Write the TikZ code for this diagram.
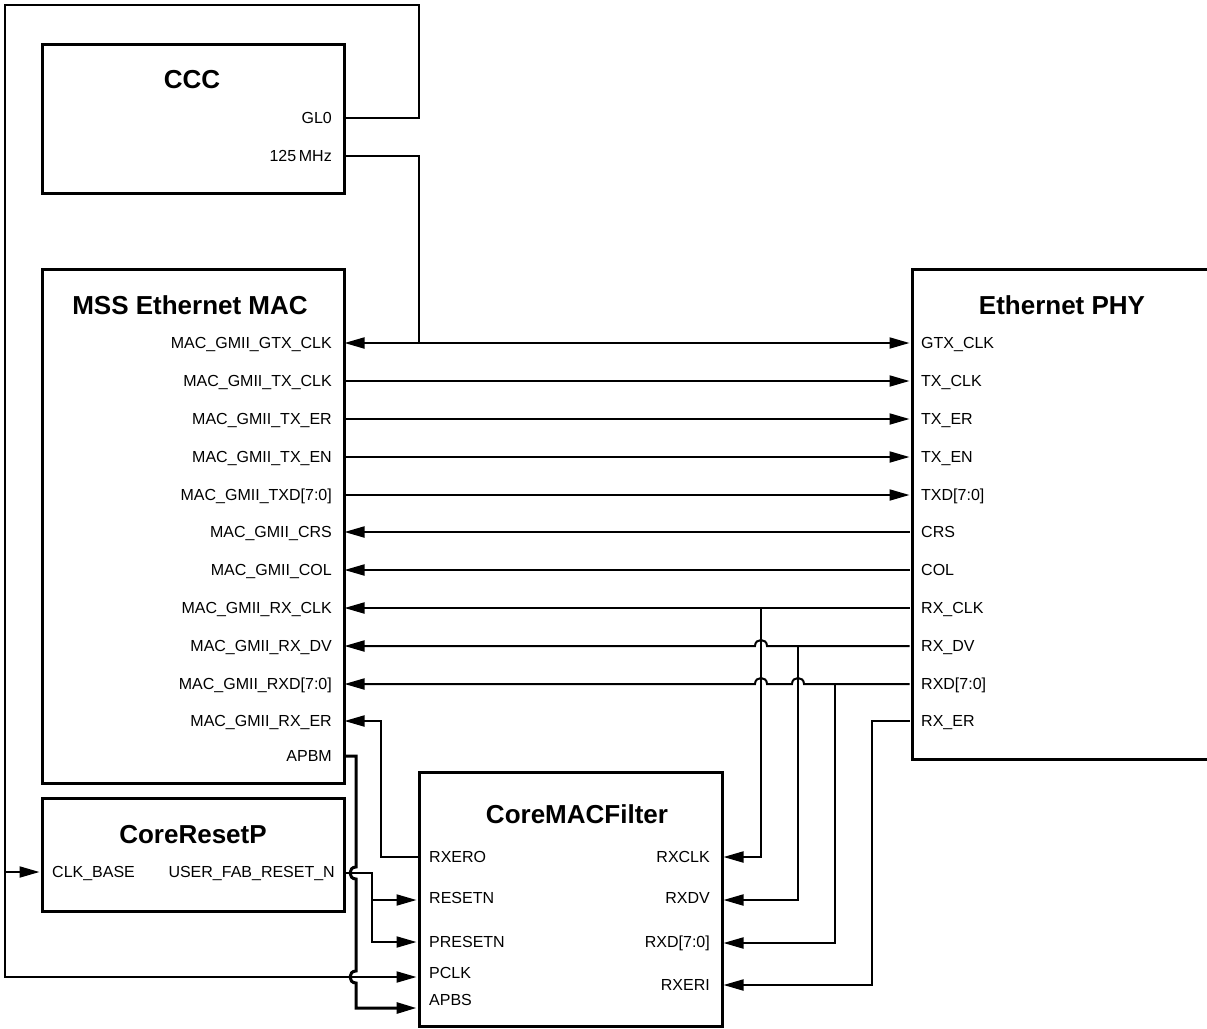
\documentclass[tikz,border=0pt]{standalone}
\usepackage{fontspec}
\setmainfont{Liberation Sans}
\usetikzlibrary{arrows.meta}
\begin{document}
\begin{tikzpicture}[x=1pt,y=-1pt,
  blk/.style={draw, line width=3pt, anchor=north west, inner sep=0pt},
  lbl/.style={font=\fontsize{16}{19}\selectfont, inner sep=0pt, text height=11.5pt, text depth=0pt},
  lbe/.style={lbl, anchor=east},
  lbw/.style={lbl, anchor=west},
  ttl/.style={font=\bfseries\fontsize{26}{30}\selectfont, inner sep=0pt, text height=18.6pt, text depth=0pt},
  wire/.style={line width=2pt},
  arr/.style={wire, -{Triangle[length=20pt,width=11pt]}},
  darr/.style={wire, {Triangle[length=20pt,width=11pt]}-{Triangle[length=20pt,width=11pt]}},
  thick wire/.style={line width=3pt, -{Triangle[length=20pt,width=11pt]}},
  ]
\useasboundingbox (0,0) rectangle (1207,1028);
\clip (0,0) rectangle (1207,1028);

% boxes
\node[blk, minimum width=302pt, minimum height=149pt] (ccc) at (41,43) {};
\node[blk, minimum width=302pt, minimum height=514pt] (mac) at (41,268) {};
\node[blk, minimum width=302pt, minimum height=113pt] (rst) at (41,797) {};
\node[blk, minimum width=303pt, minimum height=254pt] (flt) at (418,771) {};
\node[blk, minimum width=330pt, minimum height=490pt] (phy) at (911,268) {};

% titles
\node[ttl] (t-ccc) at (192,79.5) {CCC};
\node[ttl] (t-mac) at (190,305) {MSS Ethernet MAC};
\node[ttl] (t-phy) at (1062,305) {Ethernet PHY};
\node[ttl] (t-rst) at (193,834) {CoreResetP};
\node[ttl] (t-flt) at (577,814) {CoreMACFilter};

% CCC labels
\node[lbe] (l-gl0) at (332,118) {GL0};
\node[lbe] (l-mhz) at (332,156) {125\,MHz};
\coordinate (p-gl0) at (343,118);
\coordinate (p-mhz) at (343,156);

% MAC labels
\foreach \n/\y/\t in {gtx/343/MAC\_GMII\_GTX\_CLK, txclk/381/MAC\_GMII\_TX\_CLK, txer/419/MAC\_GMII\_TX\_ER,
  txen/457/MAC\_GMII\_TX\_EN, txd/495/MAC\_GMII\_TXD[7:0], crs/532/MAC\_GMII\_CRS, col/570/MAC\_GMII\_COL,
  rxclk/608/MAC\_GMII\_RX\_CLK, rxdv/646/MAC\_GMII\_RX\_DV, rxd/684/MAC\_GMII\_RXD[7:0], rxer/721/MAC\_GMII\_RX\_ER,
  apbm/756/APBM}{
  \node[lbe] (lm-\n) at (332,\y) {\t};
  \coordinate (m-\n) at (344.5,\y);
}

% PHY labels
\foreach \n/\y/\t in {gtx/343/GTX\_CLK, txclk/381/TX\_CLK, txer/419/TX\_ER, txen/457/TX\_EN, txd/495/TXD[7:0],
  crs/532/CRS, col/570/COL, rxclk/608/RX\_CLK, rxdv/646/RX\_DV, rxd/684/RXD[7:0], rxer/721/RX\_ER}{
  \node[lbw] (lp-\n) at (921,\y) {\t};
  \coordinate (p-\n) at (909.5,\y);
}

% CoreResetP labels
\node[lbw] (l-clkb) at (52,872) {CLK\_BASE};
\node[lbe] (l-ufr) at (335,872) {USER\_FAB\_RESET\_N};
\coordinate (r-clkb) at (39.5,872);
\coordinate (r-ufr) at (343,873);

% CoreMACFilter labels
\node[lbw] (l-rxero) at (429,857) {RXERO};
\node[lbw] (l-resetn) at (429,898) {RESETN};
\node[lbw] (l-presetn) at (429,942) {PRESETN};
\node[lbw] (l-pclk) at (429,973) {PCLK};
\node[lbw] (l-apbs) at (429,1000) {APBS};
\node[lbe] (l-rxclk) at (710,857) {RXCLK};
\node[lbe] (l-rxdv) at (710,898) {RXDV};
\node[lbe] (l-rxd) at (710,942) {RXD[7:0]};
\node[lbe] (l-rxeri) at (710,985) {RXERI};
\coordinate (f-rxero) at (418,857);
\coordinate (f-resetn) at (416.5,900);
\coordinate (f-presetn) at (416.5,942);
\coordinate (f-pclk) at (416.5,977);
\coordinate (f-apbs) at (416.5,1008);
\coordinate (f-rxclk) at (723.5,857);
\coordinate (f-rxdv) at (723.5,900);
\coordinate (f-rxd) at (723.5,943);
\coordinate (f-rxeri) at (723.5,985);

% routing points
\coordinate (c-topr) at (419,5);
\coordinate (c-topl) at (5,5);
\coordinate (c-botl) at (5,977);
\coordinate (c-clkj) at (5,872);
\coordinate (c-gtxj) at (419,343);

% clock loop
\draw[arr] (p-gl0) -| (c-topr) -- (c-topl) -- (c-botl) -- (f-pclk);
\draw[arr] (c-clkj) -- (r-clkb);
\draw[wire] (p-mhz) -| (c-gtxj);

% MAC <-> PHY
\draw[darr] (m-gtx) -- (p-gtx);
\foreach \n in {txclk,txer,txen,txd}{\draw[arr] (m-\n) -- (p-\n);}
\foreach \n in {crs,col,rxclk}{\draw[arr] (p-\n) -- (m-\n);}
\draw[arr] (p-rxdv) -- (767,646) .. controls (767,638) and (755,638) .. (755,646) -- (m-rxdv);
\draw[arr] (p-rxd) -- (804,684) .. controls (804,676) and (792,676) .. (792,684)
  -- (767,684) .. controls (767,676) and (755,676) .. (755,684) -- (m-rxd);

% PHY -> CoreMACFilter
\draw[arr] (761,608) |- (f-rxclk);
\draw[arr] (798,646) |- (f-rxdv);
\draw[arr] (835,684) |- (f-rxd);
\draw[arr] (p-rxer) -| (872,985) -- (f-rxeri);

% CoreMACFilter -> MAC RX_ER
\draw[arr] (f-rxero) -| (381,721) -- (m-rxer);

% reset
\draw[arr] (r-ufr) -| (372,942) -- (f-presetn);
\draw[arr] (372,900) -- (f-resetn);

% APBM thick bus
\draw[thick wire] (m-apbm) -- (356,756) -- (356,867) .. controls (348,867) and (348,879) .. (356,879)
  -- (356,971) .. controls (348,971) and (348,983) .. (356,983) -- (356,1008) -- (f-apbs);
\end{tikzpicture}
\end{document}
